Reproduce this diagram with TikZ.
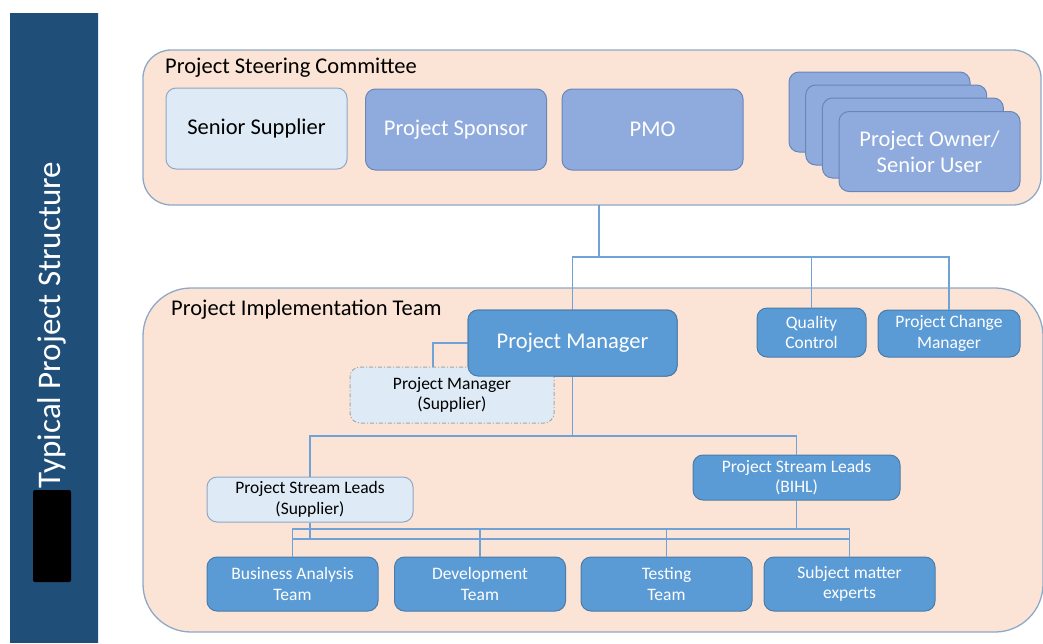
\documentclass[tikz,border=0pt]{standalone}
\usepackage{fontspec}
\setmainfont{Carlito}
\definecolor{barblue}{HTML}{1F4E79}
\definecolor{peach}{HTML}{FBE4D6}
\definecolor{panelline}{HTML}{8EA9C8}
\definecolor{paleblue}{HTML}{DEEAF6}
\definecolor{paleline}{HTML}{8FA8C6}
\definecolor{midblue}{HTML}{8FAADC}
\definecolor{midline}{HTML}{6A86B8}
\definecolor{teamblue}{HTML}{5B9BD5}
\definecolor{teamline}{HTML}{4A7CAB}
\definecolor{linkblue}{HTML}{6FA2D6}
\begin{document}
\begin{tikzpicture}[x=1pt,y=-1pt,
  panel/.style={draw=panelline,fill=peach,line width=1.3pt},
  boxbase/.style={rectangle,rounded corners=10pt,inner sep=0pt,align=center,line width=1pt},
  palebox/.style={boxbase,draw=paleline,fill=paleblue,text=black},
  sponsorbox/.style={boxbase,draw=midline,fill=midblue,text=white,
    minimum width=181pt,minimum height=81pt,font=\fontsize{22.5}{26}\selectfont},
  teambox/.style={boxbase,draw=teamline,fill=teamblue,text=white},
  smalltext/.style={font=\fontsize{17.5}{20.5}\selectfont},
  link/.style={draw=linkblue,line width=1.2pt},
  title/.style={anchor=west,inner sep=0pt,text=black,font=\fontsize{22.5}{26}\selectfont}]
\useasboundingbox (0,0) rectangle (1043,643);
\fill[white] (0,0) rectangle (1043,643);

% side banner
\fill[barblue] (10,13) rectangle (98,643);
\draw[draw=paleblue,line width=1pt] (98,13) -- (98,643);
\node[rotate=90,text=white,inner sep=0pt,font=\fontsize{33}{38}\selectfont]
  (banner) at (52,325) {Typical Project Structure};
\fill[black,rounded corners=2pt] (33,490) rectangle (71,582);

% steering committee panel
\draw[panel,rounded corners=28pt] (143,50) rectangle (1041,205);
\coordinate (steerbottom) at (599,205);
\node[title] (steertitle) at (165,68) {Project Steering Committee};
\node[palebox,minimum width=181pt,minimum height=81pt,font=\fontsize{22.5}{26}\selectfont]
  (senior) at (256.5,128.5) {Senior Supplier};
\node[sponsorbox] (sponsor) at (456,129.5) {Project Sponsor};
\node[sponsorbox] (pmo) at (652.5,129.5) {PMO};
\node[sponsorbox,minimum height=80pt] (po1) at (879.5,112) {};
\node[sponsorbox,minimum height=80pt] (po2) at (896.2,125) {};
\node[sponsorbox,minimum height=80pt] (po3) at (912.9,138) {};
\node[sponsorbox,minimum height=80pt] (po4) at (929.5,151.5) {Project Owner/\\Senior User};

% implementation team panel
\draw[panel,rounded corners=48pt] (143,288) rectangle (1043,632);
\node[title] (impltitle) at (171,310) {Project Implementation Team};

% connectors from the steering committee
\coordinate (j1) at (599,257);
\draw[link] (steerbottom) -- (j1);

\node[teambox,minimum width=209pt,minimum height=66pt,font=\fontsize{22.5}{26}\selectfont]
  (pm) at (572.5,343) {Project Manager};
\node[teambox,smalltext,minimum width=109pt,minimum height=49pt]
  (qc) at (811.5,332.5) {Quality\\Control};
\node[teambox,smalltext,minimum width=142pt,minimum height=47pt]
  (pcm) at (949,333.5) {Project Change\\Manager};

\draw[link] (pm.north) -- (pm.north |- j1) -- (pcm.north |- j1) -- (pcm.north);
\draw[link] (qc.north |- j1) -- (qc.north);

% supplier-side project manager
\node[boxbase,smalltext,draw=gray!70,fill=paleblue,text=black,
  dash pattern=on 4pt off 2pt on 1pt off 2pt,
  minimum width=204pt,minimum height=56pt]
  (pms) at (452,395) {Project Manager\\(Supplier)};
\draw[link] (pm.west) -| ([xshift=-19pt]pms.north);
\node[teambox,minimum width=209pt,minimum height=66pt,font=\fontsize{22.5}{26}\selectfont]
  at (pm) {Project Manager};

% stream leads
\node[palebox,smalltext,minimum width=206pt,minimum height=45pt]
  (sls) at (310,499.5) {Project Stream Leads\\(Supplier)};
\node[teambox,smalltext,minimum width=207pt,minimum height=45pt]
  (slb) at (796.5,477.5) {Project Stream Leads\\(BIHL)};
\coordinate (b1) at (572,436);
\draw[link] (pm.south) -- (pm.south |- b1);
\draw[link] (sls.north) |- (b1) -| (slb.north);

% teams
\node[teambox,smalltext,minimum width=171pt,minimum height=54pt]
  (ba) at (292.5,584) {Business Analysis\\Team};
\node[teambox,smalltext,minimum width=171pt,minimum height=54pt]
  (dev) at (480,584) {Development\\Team};
\node[teambox,smalltext,minimum width=171pt,minimum height=54pt]
  (test) at (666.5,584) {Testing\\Team};
\node[teambox,smalltext,minimum width=171pt,minimum height=54pt]
  (sme) at (849.5,584) {Subject matter\\experts};

\coordinate (ub) at (0,529);
\coordinate (lb) at (0,539);
\draw[link] (slb.south) -- (slb.south |- ub);
\draw[link] (ba.north) |- (sme.north |- ub) -- (sme.north);
\draw[link] (dev.north) -- (dev.north |- ub);
\draw[link] (test.north) -- (test.north |- ub);
\draw[link] (sls.south) -- (sls.south |- lb);
\draw[link] (ba.north |- lb) -- (sme.north |- lb);
\end{tikzpicture}
\end{document}
